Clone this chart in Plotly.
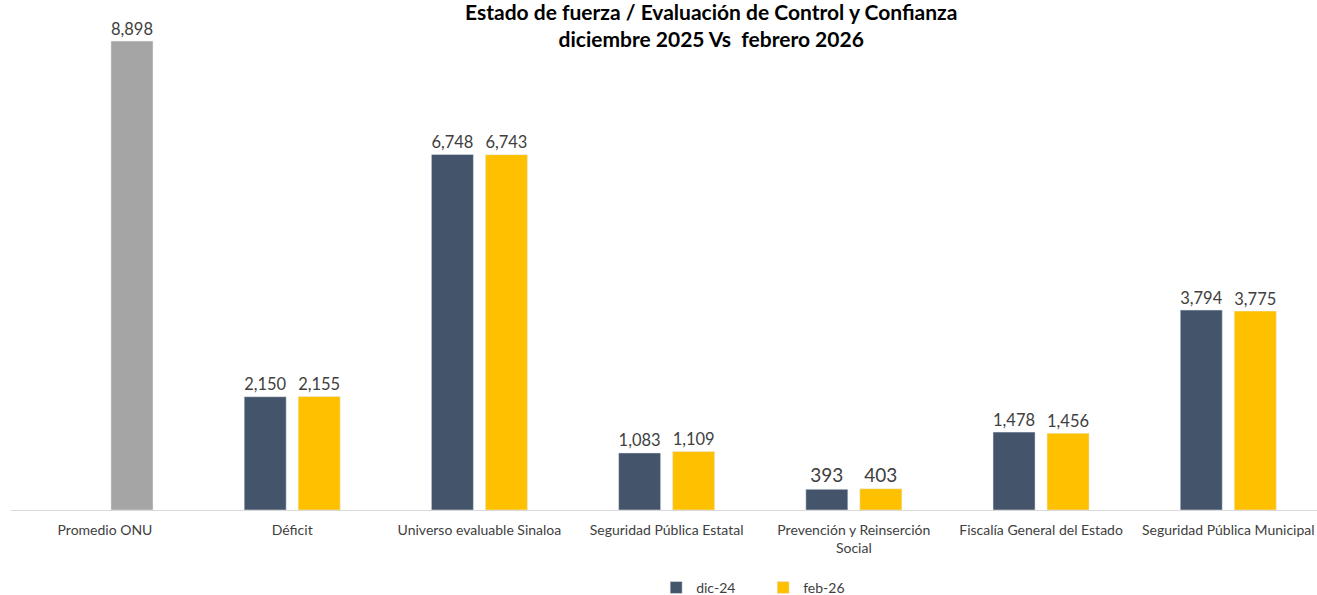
import plotly.graph_objects as go

categories = [
    "Promedio ONU",
    "Déficit",
    "Universo evaluable Sinaloa",
    "Seguridad Pública Estatal",
    "Prevención y Reinserción<br>Social",
    "Fiscalía General del Estado",
    "Seguridad Pública Municipal",
]
dic_24 = [None, 2150, 6748, 1083, 393, 1478, 3794]
feb_26 = [None, 2155, 6743, 1109, 403, 1456, 3775]
promedio_onu = [8898, None, None, None, None, None, None]

FONT = "Lato, 'Open Sans', sans-serif"
TEXT_COLOR = "#404040"
label_font = dict(family=FONT, size=19, color=TEXT_COLOR)

fig = go.Figure()
fig.add_trace(go.Bar(
    name="dic-24", x=categories, y=dic_24, offsetgroup="a",
    marker_color="#44546A", texttemplate="%{y:,}", textposition="outside",
    textfont=label_font, cliponaxis=False,
))
fig.add_trace(go.Bar(
    name="feb-26", x=categories, y=feb_26, offsetgroup="b",
    marker_color="#FFC000", texttemplate="%{y:,}", textposition="outside",
    textfont=label_font, cliponaxis=False,
))
fig.add_trace(go.Bar(
    name="Promedio ONU", x=categories, y=promedio_onu, offsetgroup="b",
    marker_color="#A5A5A5", texttemplate="%{y:,}", textposition="outside",
    textfont=label_font, cliponaxis=False, showlegend=False,
))

# Two-line chart heading, placed as an annotation above the plot area
fig.add_annotation(
    text="<b>Estado de fuerza / Evaluación de Control y Confianza<br>diciembre 2025 Vs  febrero 2026</b>",
    xref="paper", yref="paper", x=0.536, y=0.9898,
    xanchor="center", yanchor="middle", showarrow=False,
    font=dict(family=FONT, size=21, color="#000000"),
)

fig.update_layout(
    width=1317, height=595,
    margin=dict(l=11, r=0, t=20, b=85),
    paper_bgcolor="white", plot_bgcolor="white",
    barmode="group", bargap=0.423, bargroupgap=0.222,
    legend=dict(
        orientation="h", x=0.494, xanchor="left",
        y=0.012, yanchor="middle", yref="container",
        font=dict(family=FONT, size=14, color=TEXT_COLOR),
        traceorder="normal", itemwidth=30, entrywidth=62,
    ),
    xaxis=dict(
        range=[-0.502, 6.474], showline=True, linecolor="#D9D9D9", linewidth=1,
        ticks="", tickfont=dict(family=FONT, size=14, color=TEXT_COLOR),
        ticklabelstandoff=7,
    ),
    yaxis=dict(
        range=[0, 9298], showticklabels=False, showgrid=False, zeroline=False,
    ),
)

fig.write_html("out.html")
